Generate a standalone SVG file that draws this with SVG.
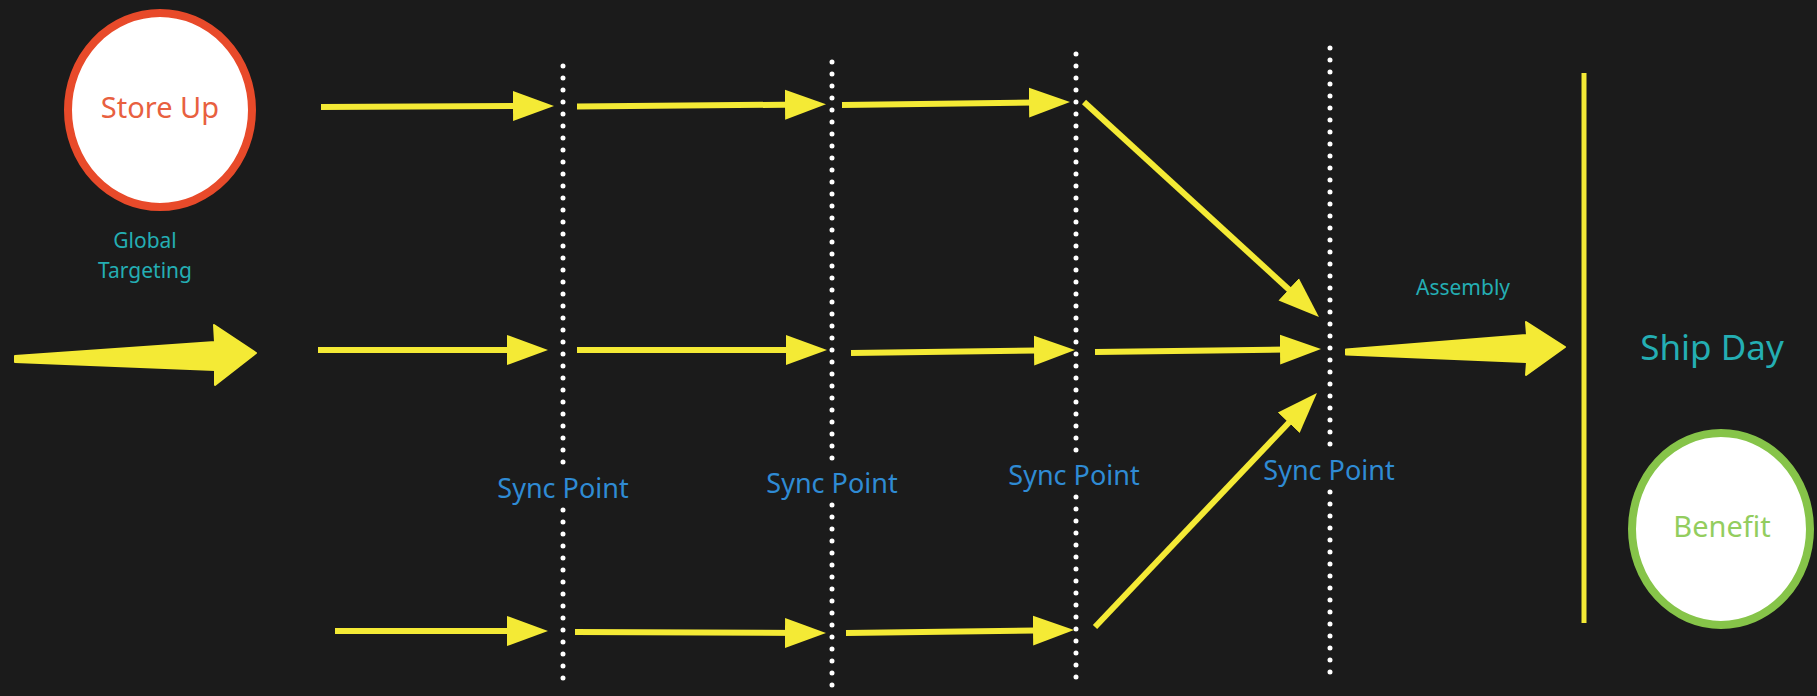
<svg xmlns="http://www.w3.org/2000/svg" width="1817" height="696" viewBox="0 0 1817 696">
<defs>
<style>
.bg{fill:#1b1b1b}
.txt{font-family:"Noto Sans","Open Sans","Liberation Sans",sans-serif;text-anchor:middle}
.sync{font-size:27px;fill:#2f8bd4}
.teal{fill:#24aeb3}
.dots{stroke:#ffffff;stroke-width:5;stroke-dasharray:0 12;stroke-linecap:round;fill:none}
.arr{stroke:#f4ea35;stroke-width:6;fill:none;marker-end:url(#head)}
.fat{fill:#f4ea35;stroke:#f4ea35;stroke-width:2;stroke-linejoin:round}
</style>
<marker id="head" markerUnits="userSpaceOnUse" markerWidth="42" markerHeight="32" refX="21" refY="15" orient="auto" viewBox="0 0 42 30">
<path d="M0,0 L41,15 L0,30 Z" fill="#f4ea35"/>
</marker>
</defs>
<rect class="bg" x="0" y="0" width="1817" height="696"/>

<g id="sync-lines">
<path class="dots" d="M563,66 V468 M563,510 V690"/>
<path class="dots" d="M832,62 V466 M832,505 V690"/>
<path class="dots" d="M1076,54 V455 M1076,497 V684"/>
<path class="dots" d="M1330,48 V452 M1330,492 V676"/>
</g>

<g id="ship-line">
<line x1="1584" y1="73" x2="1584" y2="623" stroke="#f4ea35" stroke-width="5"/>
</g>

<g id="connectors">
<polygon class="fat" points="15,356 215,342 214,325 256,353 215,385 215,370 15,362"/>
<line class="arr" x1="321" y1="107" x2="534" y2="106"/>
<line class="arr" x1="577" y1="106.5" x2="806" y2="104.5"/>
<line class="arr" x1="842" y1="105" x2="1050" y2="102.3"/>
<line class="arr" x1="1084" y1="102" x2="1304.2" y2="303.5"/>
<line class="arr" x1="318" y1="350" x2="528" y2="350"/>
<line class="arr" x1="577" y1="350" x2="807" y2="350"/>
<line class="arr" x1="851" y1="353" x2="1055" y2="350.3"/>
<line class="arr" x1="1095" y1="352" x2="1301" y2="349.3"/>
<line class="arr" x1="335" y1="631" x2="528" y2="631"/>
<line class="arr" x1="575" y1="632" x2="806" y2="633"/>
<line class="arr" x1="846" y1="633" x2="1054" y2="630.3"/>
<line class="arr" x1="1095" y1="627" x2="1303.2" y2="407.5"/>
<polygon class="fat" points="1346,349.5 1527,335 1526,322 1565,347 1526,375 1527,362 1346,354.5"/>
</g>

<g id="store-up">
<ellipse cx="160" cy="110" rx="92" ry="97" fill="#ffffff" stroke="#e84a2a" stroke-width="8"/>
<text class="txt" x="160" y="118" font-size="29" fill="#e8603f">Store Up</text>
</g>

<g id="global-targeting">
<text class="txt teal" x="145" y="248" font-size="21">Global</text>
<text class="txt teal" x="145" y="278" font-size="21">Targeting</text>
</g>

<g id="sync-labels">
<text class="txt sync" x="563" y="498">Sync Point</text>
<text class="txt sync" x="832" y="493">Sync Point</text>
<text class="txt sync" x="1074" y="485">Sync Point</text>
<text class="txt sync" x="1329" y="480">Sync Point</text>
</g>

<g id="assembly">
<text class="txt teal" x="1463" y="295" font-size="21">Assembly</text>
</g>

<g id="ship-day">
<text class="txt teal" x="1712" y="360" font-size="35">Ship Day</text>
</g>

<g id="benefit">
<ellipse cx="1721" cy="529" rx="89" ry="96" fill="#ffffff" stroke="#86c449" stroke-width="8"/>
<text class="txt" x="1722" y="537" font-size="29" fill="#93cd5e">Benefit</text>
</g>
</svg>
